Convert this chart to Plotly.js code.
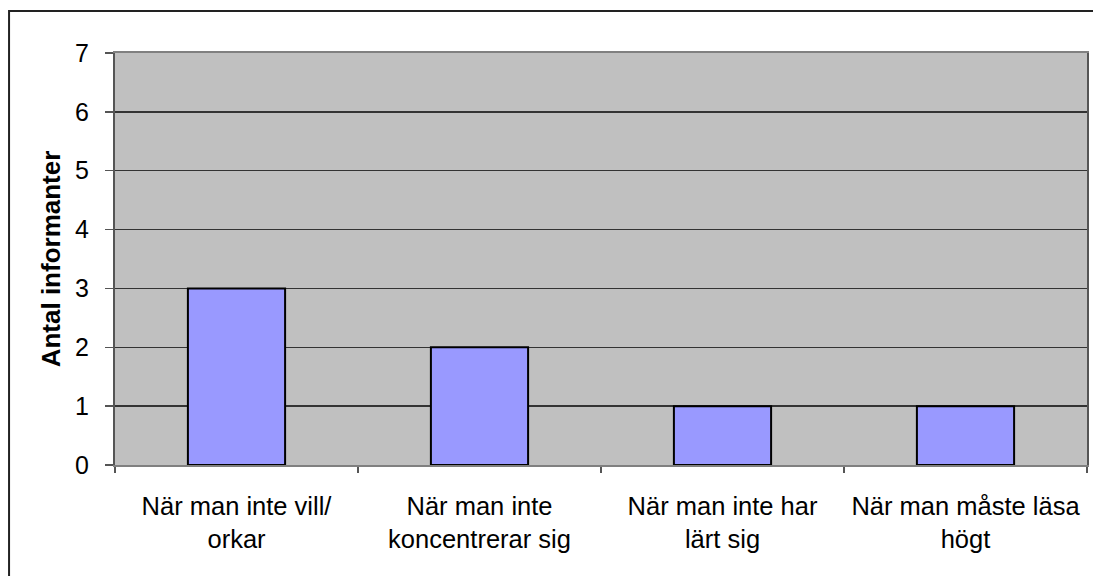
<!DOCTYPE html>
<html><head><meta charset="utf-8">
<script src="https://cdn.plot.ly/plotly-3.0.1.min.js"></script>
<style>html,body{margin:0;padding:0;background:#fff}#c{width:1093px;height:576px}</style>
</head><body><div id="c"></div>
<script>
const categories = ["När man inte vill/<br>orkar", "När man inte<br>koncentrerar sig", "När man inte har<br>lärt sig", "När man måste läsa<br>högt"];
const values = [3, 2, 1, 1];
const yTicks = [0, 1, 2, 3, 4, 5, 6, 7];

const font = "Liberation Sans, Arial, sans-serif";
const data = [{
  type: 'bar', x: categories, y: values,
  width: 0.4,
  marker: {color: '#9999FF', line: {color: '#000', width: 2}},
  hoverinfo: 'none'
}];
const layout = {
  width: 1093, height: 576,
  margin: {l: 115, r: 6, t: 53, b: 111},
  paper_bgcolor: '#fff', plot_bgcolor: '#C0C0C0',
  showlegend: false,
  font: {family: font, color: '#000'},
  xaxis: {
    showgrid: false, ticks: 'outside', ticklen: 6, tickcolor: '#555', tickwidth: 1.5,
    tickson: 'boundaries', showline: true, linecolor: '#808080', linewidth: 2, mirror: true,
    tickfont: {size: 25.5, family: font}, zeroline: false, ticklabelstandoff: 17
  },
  yaxis: {
    range: [0, 7], tickvals: yTicks, ticks: 'outside', ticklen: 8, tickcolor: '#555', tickwidth: 1.5,
    showgrid: true, gridcolor: '#333', gridwidth: 1.5,
    showline: true, linecolor: '#555', linewidth: 2, mirror: true,
    tickfont: {size: 25, family: font}, zeroline: false, ticklabelstandoff: 11,
    title: {text: 'Antal informanter', font: {size: 26, family: font, weight: 'bold'}, standoff: 7}
  },
  shapes: [{
    type: 'rect', xref: 'paper', yref: 'paper',
    x0: -0.109, x1: 1.02, y0: -0.3, y1: 1.102,
    line: {color: '#222', width: 2}, fillcolor: 'rgba(0,0,0,0)', layer: 'above'
  }]
};
Plotly.newPlot('c', data, layout, {staticPlot: true});
</script></body></html>
